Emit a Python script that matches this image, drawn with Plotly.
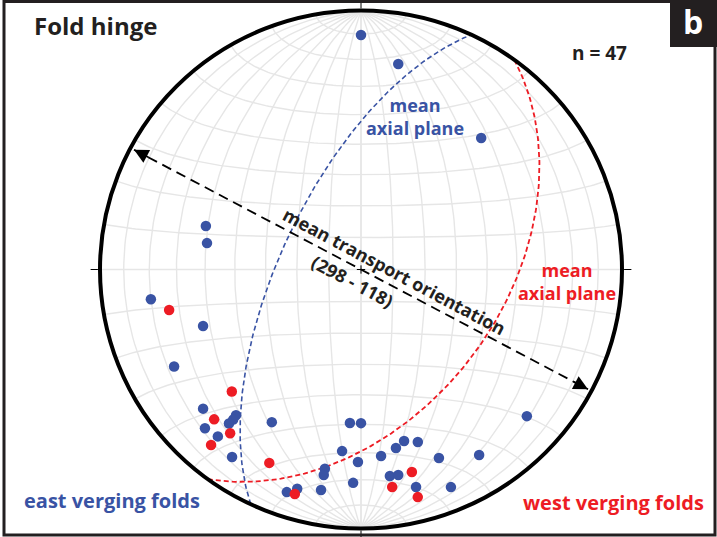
import numpy as np
import plotly.graph_objects as go

# ---------------- data (fold hinges: trend, plunge in degrees) ----------------
east_trend = [0.0, 10.2, 42.2, 285.8, 279.8, 261.9, 250.2, 242.4, 228.4, 220.4,
              220.2, 220.4, 224.3, 220.4, 214.3, 210.1, 184.1, 180.0, 185.9, 190.2,
              190.2, 180.9, 182.1, 190.2, 198.3, 196.1, 173.9, 169.0, 166.0, 161.9,
              157.7, 147.7, 172.1, 169.8, 165.9, 157.7, 131.7]
east_plunge = [10.4, 20.5, 32.0, 38.2, 39.9, 19.8, 35.9, 20.3, 20.2, 27.0,
               25.1, 23.0, 15.5, 16.5, 13.4, 32.4, 40.3, 40.4, 30.2, 22.9,
               20.5, 26.6, 18.7, 14.6, 10.4, 12.9, 28.4, 30.5, 32.3, 30.6,
               22.4, 16.4, 20.6, 20.5, 14.5, 10.1, 16.0]
west_trend = [258.0, 226.4, 224.2, 218.4, 220.3, 205.2, 196.3, 166.0, 171.9, 166.1]
west_plunge = [25.8, 32.2, 20.4, 20.4, 12.2, 18.6, 10.6, 20.5, 16.3, 10.4]

# mean axial planes (dip direction, dip)
east_plane = (295.0, 65.0)
west_plane = (126.0, 45.0)
# mean transport orientation (trends)
transport = (298.0, 118.0)
n_total = len(east_trend) + len(west_trend)

BLUE = "#3953a4"
RED = "#ed1c24"
DARK = "#231f20"
FONT = "Open Sans"

W, H = 717, 537


# ---------------- equal-area (Schmidt) lower-hemisphere projection ------------
def proj_line(trend, plunge):
    t = np.radians(np.asarray(trend, float))
    p = np.radians(np.asarray(plunge, float))
    r = np.sqrt(2) * np.sin(np.pi / 4 - p / 2)
    return r * np.sin(t), r * np.cos(t)


def proj_vec(x, y, z):
    s = np.sqrt(1 - z)
    return x / s, y / s


def plane_curve(dipdir, dip, n=181):
    dd = np.radians(dipdir)
    d = np.radians(dip)
    s = dd - np.pi / 2
    a = np.linspace(0, np.pi, n)
    S = np.array([np.sin(s), np.cos(s), 0.0])
    D = np.array([np.sin(dd) * np.cos(d), np.cos(dd) * np.cos(d), -np.sin(d)])
    v = np.outer(np.cos(a), S) + np.outer(np.sin(a), D)
    return proj_vec(v[:, 0], v[:, 1], v[:, 2])


# net grid
gx, gy = [], []
a = np.linspace(0, np.pi, 121)
for dip in range(10, 91, 10):
    for sgn in (1, -1):
        d = np.radians(dip)
        vx = sgn * np.sin(a) * np.cos(d)
        vy = np.cos(a)
        vz = -np.sin(a) * np.sin(d)
        X, Y = proj_vec(vx, vy, vz)
        gx += list(X) + [None]
        gy += list(Y) + [None]
phi = np.linspace(np.pi, 2 * np.pi, 121)
for beta in range(10, 171, 10):
    b = np.radians(beta)
    vx = np.sin(b) * np.cos(phi)
    vy = np.full_like(phi, np.cos(b))
    vz = np.sin(b) * np.sin(phi)
    X, Y = proj_vec(vx, vy, vz)
    gx += list(X) + [None]
    gy += list(Y) + [None]

fig = go.Figure()
fig.add_trace(go.Scatter(x=gx, y=gy, mode="lines",
                         line=dict(color="#e6e6e6", width=1.4),
                         hoverinfo="skip", showlegend=False))

# axial planes
bx, by = plane_curve(*east_plane)
fig.add_trace(go.Scatter(x=bx, y=by, mode="lines",
                         line=dict(color=BLUE, width=1.6, dash="5px,3px"),
                         showlegend=False))
rx, ry = plane_curve(*west_plane)
fig.add_trace(go.Scatter(x=rx, y=ry, mode="lines",
                         line=dict(color=RED, width=1.8, dash="5px,3px"),
                         showlegend=False))

# transport direction
tx, ty = proj_line(list(transport), [0, 0])
tx = np.asarray(tx) * 0.985
ty = np.asarray(ty) * 0.985
fig.add_trace(go.Scatter(x=tx, y=ty, mode="lines",
                         line=dict(color="black", width=1.8, dash="10px,6px"),
                         showlegend=False))
for i in range(2):
    fig.add_annotation(x=tx[i], y=ty[i], ax=tx[i] * 0.93, ay=ty[i] * 0.93,
                       xref="x", yref="y", axref="x", ayref="y", text="",
                       showarrow=True, arrowhead=2, arrowsize=1.8,
                       arrowwidth=1.6, arrowcolor="black", standoff=0)

# points
ex, ey = proj_line(east_trend, east_plunge)
fig.add_trace(go.Scatter(x=ex, y=ey, mode="markers",
                         marker=dict(color=BLUE, size=10.5, line=dict(width=0)),
                         name="east verging folds", showlegend=False))
wx, wy = proj_line(west_trend, west_plunge)
fig.add_trace(go.Scatter(x=wx, y=wy, mode="markers",
                         marker=dict(color=RED, size=10.5, line=dict(width=0)),
                         name="west verging folds", showlegend=False))

# primitive circle, ticks, centre cross
fig.add_shape(type="circle", xref="x", yref="y", x0=-1, y0=-1, x1=1, y1=1,
              line=dict(color="black", width=4))
tick = 0.028
for (x0, y0, x1, y1) in [(0, 1.008, 0, 1.008 + tick), (0, -1.008, 0, -1.008 - tick),
                         (1.008, 0, 1.008 + tick, 0), (-1.008, 0, -1.008 - tick, 0)]:
    fig.add_shape(type="line", xref="x", yref="y", x0=x0, y0=y0, x1=x1, y1=y1,
                  line=dict(color="black", width=1))
c = 0.016
fig.add_shape(type="line", xref="x", yref="y", x0=-c, y0=0, x1=c, y1=0,
              line=dict(color="black", width=1))
fig.add_shape(type="line", xref="x", yref="y", x0=0, y0=-c, x1=0, y1=c,
              line=dict(color="black", width=1))

# frame and panel letter box
fig.add_shape(type="rect", xref="paper", yref="paper",
              x0=4 / W, y0=1 - 535 / H, x1=715 / W, y1=1 - 1.5 / H,
              line=dict(color=DARK, width=3))
fig.add_shape(type="rect", xref="paper", yref="paper",
              x0=670 / W, y0=1 - 47 / H, x1=1, y1=1,
              fillcolor=DARK, line=dict(width=0))


def label(text, px, py, color, size, angle=0, xanchor="center"):
    fig.add_annotation(x=px / W, y=1 - py / H, xref="paper", yref="paper",
                       text=text, showarrow=False, xanchor=xanchor, yanchor="middle",
                       textangle=angle, align="center",
                       font=dict(family=FONT, size=size, color=color))


label("<b>Fold hinge</b>", 32, 26, DARK, 24, xanchor="left")
label(f"<b>n = {n_total}</b>", 599, 53, DARK, 19)
label("<b>b</b>", 693, 22, "white", 32)
label("<b>mean<br>axial plane</b>", 415, 117, BLUE, 18)
label("<b>mean<br>axial plane</b>", 567, 281, RED, 18)
label("<b>east verging folds</b>", 112, 500, BLUE, 20)
label("<b>west verging folds</b>", 613, 502, RED, 20)
label("<b>mean transport orientation</b>", 394, 271, DARK, 18, angle=28)
label(f"<b>({transport[0]:.0f} - {transport[1]:.0f})</b>", 352, 281, DARK, 18, angle=28)

# axes mapped so the net centre sits at (361, 269.5) px
xr = [(0 - 361) / 261, (W - 361) / 261]
yr = [(269.5 - H) / 259, 269.5 / 259]
fig.update_xaxes(range=xr, visible=False, fixedrange=True)
fig.update_yaxes(range=yr, visible=False, fixedrange=True)
fig.update_layout(width=W, height=H, margin=dict(l=0, r=0, t=0, b=0),
                  paper_bgcolor="white", plot_bgcolor="white",
                  showlegend=False)

fig.write_html("out.html", config={"displayModeBar": False},
               post_script="document.body.style.margin='0px';"
                           "document.body.style.overflow='hidden';")
